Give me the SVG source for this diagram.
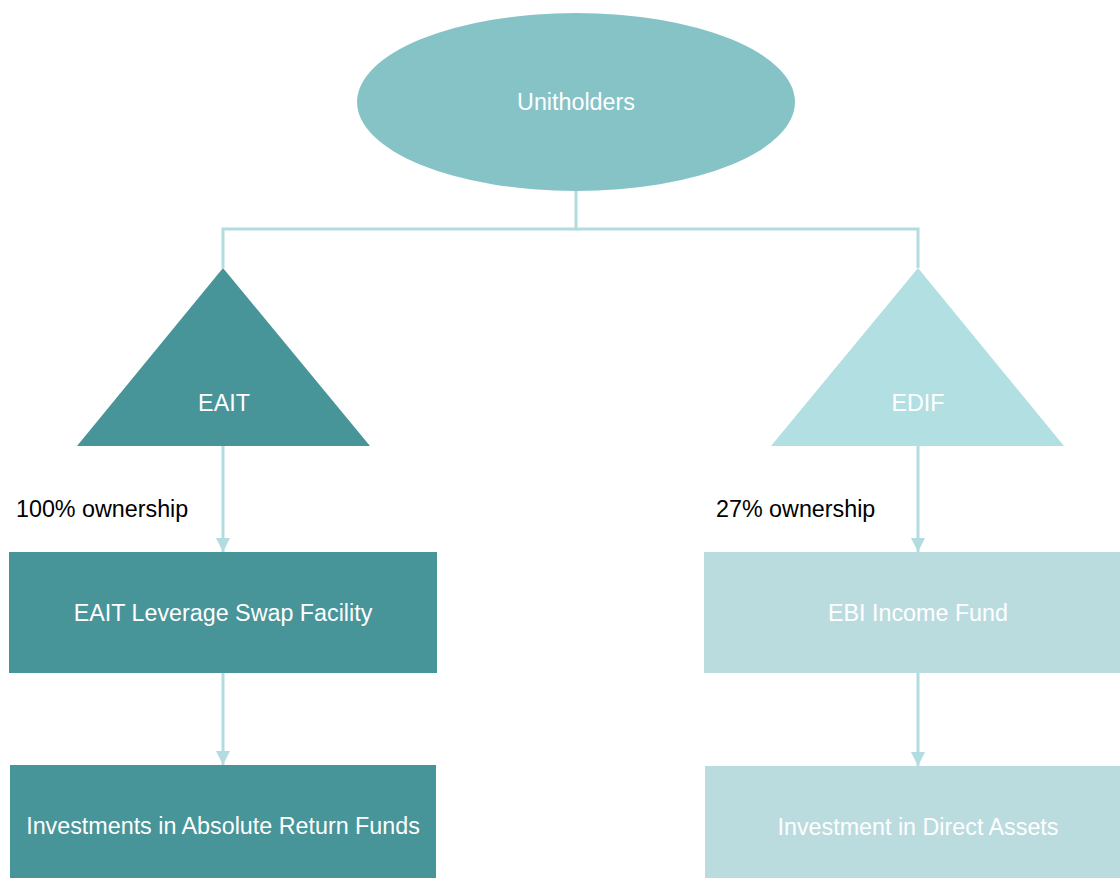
<svg xmlns="http://www.w3.org/2000/svg" width="1120" height="878" viewBox="0 0 1120 878">
<defs>
<style>
text{font-family:"Liberation Sans",Arial,sans-serif;font-size:23.3px;}
.w{fill:#ffffff;text-anchor:middle;dominant-baseline:central;}
.k{fill:#000000;}
.c{fill:none;stroke:#B3DCE0;stroke-width:3;}
.dark{fill:#479499;}
.light{fill:#BADCDF;}
</style>
<marker id="ah" markerWidth="16" markerHeight="14" refX="14" refY="7" orient="auto" markerUnits="userSpaceOnUse">
<path d="M0,0 L14,7 L0,14 Z" fill="#B3DCE0"/>
</marker>
</defs>
<rect width="1120" height="878" fill="#ffffff"/>
<g id="connectors">
<path class="c" d="M576,191 V229 H223 V268"/>
<path class="c" d="M576,229 H918 V268"/>
<path class="c" d="M223,446 V552" marker-end="url(#ah)"/>
<path class="c" d="M918,446 V552" marker-end="url(#ah)"/>
<path class="c" d="M223,673 V765" marker-end="url(#ah)"/>
<path class="c" d="M918,673 V766" marker-end="url(#ah)"/>
</g>
<g id="unitholders">
<ellipse cx="576" cy="102" rx="219" ry="89" fill="#86C3C7"/>
<text class="w" x="576" y="102">Unitholders</text>
</g>
<g id="eait">
<polygon points="223,268 370,446 77,446" class="dark"/>
<text class="w" x="224" y="403">EAIT</text>
</g>
<g id="edif">
<polygon points="918,268 1064,446 771,446" fill="#B2DFE2"/>
<text class="w" x="918" y="403">EDIF</text>
</g>
<g id="label-100">
<text class="k" x="16" y="517">100% ownership</text>
</g>
<g id="label-27">
<text class="k" x="716" y="517">27% ownership</text>
</g>
<g id="swap">
<rect x="9" y="552" width="428" height="121" class="dark"/>
<text class="w" x="223" y="613">EAIT Leverage Swap Facility</text>
</g>
<g id="ebi">
<rect x="704" y="552" width="416" height="121" class="light"/>
<text class="w" x="918" y="613">EBI Income Fund</text>
</g>
<g id="absolute">
<rect x="10" y="765" width="426" height="113" class="dark"/>
<text class="w" x="223" y="826">Investments in Absolute Return Funds</text>
</g>
<g id="direct">
<rect x="705" y="766" width="415" height="112" class="light"/>
<text class="w" x="918" y="827">Investment in Direct Assets</text>
</g>
</svg>
